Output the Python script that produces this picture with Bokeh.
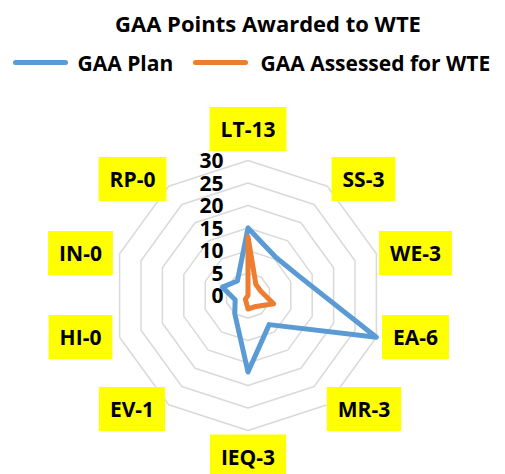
import numpy as np
from bokeh.plotting import figure
from bokeh.models import Label, Range1d
from bokeh.core.properties import value
from bokeh.embed import file_html
from bokeh.resources import INLINE

# ---------------- data ----------------
title_text = "GAA Points Awarded to WTE"
categories = ["LT-13", "SS-3", "WE-3", "EA-6", "MR-3", "IEQ-3", "EV-1", "HI-0", "IN-0", "RP-0"]
gaa_plan = [15, 10.5, 12.5, 30, 8, 17, 5, 3, 6, 4]
gaa_assessed = [13, 3, 3, 6, 3, 3, 1, 0, 0, 0]
series_names = ["GAA Plan", "GAA Assessed for WTE"]
tick_values = [0, 5, 10, 15, 20, 25, 30]

# ---------------- layout ----------------
FONT = "Open Sans"
W, H = 505, 474
PX = 4.5                      # pixels per value unit
SCX, SCY = 247.5, 295.0       # radar centre in window pixels
ORIGIN = 0

def dx(sx):
    return (sx - SCX) / PX

def dy(sy):
    return (SCY - sy) / PX

x_range = Range1d(dx(ORIGIN), dx(ORIGIN + W))
y_range = Range1d(dy(ORIGIN + H), dy(ORIGIN))

p = figure(width=W, height=H, x_range=x_range, y_range=y_range,
           output_backend="svg", toolbar_location=None, min_border=0)
p.axis.visible = False
p.grid.visible = False
p.outline_line_color = None
p.background_fill_color = "white"

n = len(categories)
angles = np.deg2rad(90 - 360.0 / n * np.arange(n))

# grid rings
ring_xs, ring_ys = [], []
for lv in tick_values[1:]:
    ring_xs.append(list(lv * np.cos(angles)) + [lv * np.cos(angles[0])])
    ring_ys.append(list(lv * np.sin(angles)) + [lv * np.sin(angles[0])])
p.multi_line(ring_xs, ring_ys, line_color="#d9d9d9", line_width=1.5)

# series
colors = ["#5B9BD5", "#ED7D31"]
for vals, col in zip([gaa_plan, gaa_assessed], colors):
    v = np.array(vals, dtype=float)
    xs = list(v * np.cos(angles)) + [v[0] * np.cos(angles[0])]
    ys = list(v * np.sin(angles)) + [v[0] * np.sin(angles[0])]
    p.line(xs, ys, line_color=col, line_width=5, line_join="round", line_cap="round")

# radial tick labels
p.text(x=[dx(223)] * len(tick_values), y=tick_values, text=[str(t) for t in tick_values],
       text_font=value(FONT), text_font_style="bold", text_font_size="21px",
       text_align="right", text_baseline="middle", text_color="black")

# category labels (yellow boxes)
label_offsets = [(0, -166.5), (115.5, -116.5), (167.5, -42.5), (167.5, 41.5), (116, 113.5),
                 (0, 161), (-116, 113.5), (-167.5, 41.5), (-167.5, -42.5), (-115.5, -116.5)]
for cat, (ox, oy) in zip(categories, label_offsets):
    p.add_layout(Label(x=dx(SCX + ox), y=dy(SCY + oy), text=cat,
                       text_font=FONT, text_font_style="bold", text_font_size="21px",
                       text_align="center", text_baseline="middle", text_color="black",
                       background_fill_color="#FFFF00", padding=(11, 8)))

# title
p.text(x=[dx(267.5)], y=[dy(22)], text=[title_text], text_font=value(FONT),
       text_font_style="bold", text_font_size="22px", text_align="center",
       text_baseline="middle", text_color="black")

# legend
leg_y = dy(62)
leg_line_x = [(15, 65), (195, 245)]
leg_text_x = [77, 260]
for name, col, (a, b), tx in zip(series_names, colors, leg_line_x, leg_text_x):
    p.line([dx(a), dx(b)], [leg_y, leg_y], line_color=col, line_width=5, line_cap="round")
    p.text(x=[dx(tx)], y=[leg_y], text=[name], text_font=value(FONT), text_font_style="bold",
           text_font_size="21px", text_align="left", text_baseline="middle", text_color="black")

open("out.html", "w").write(file_html(p, INLINE))
